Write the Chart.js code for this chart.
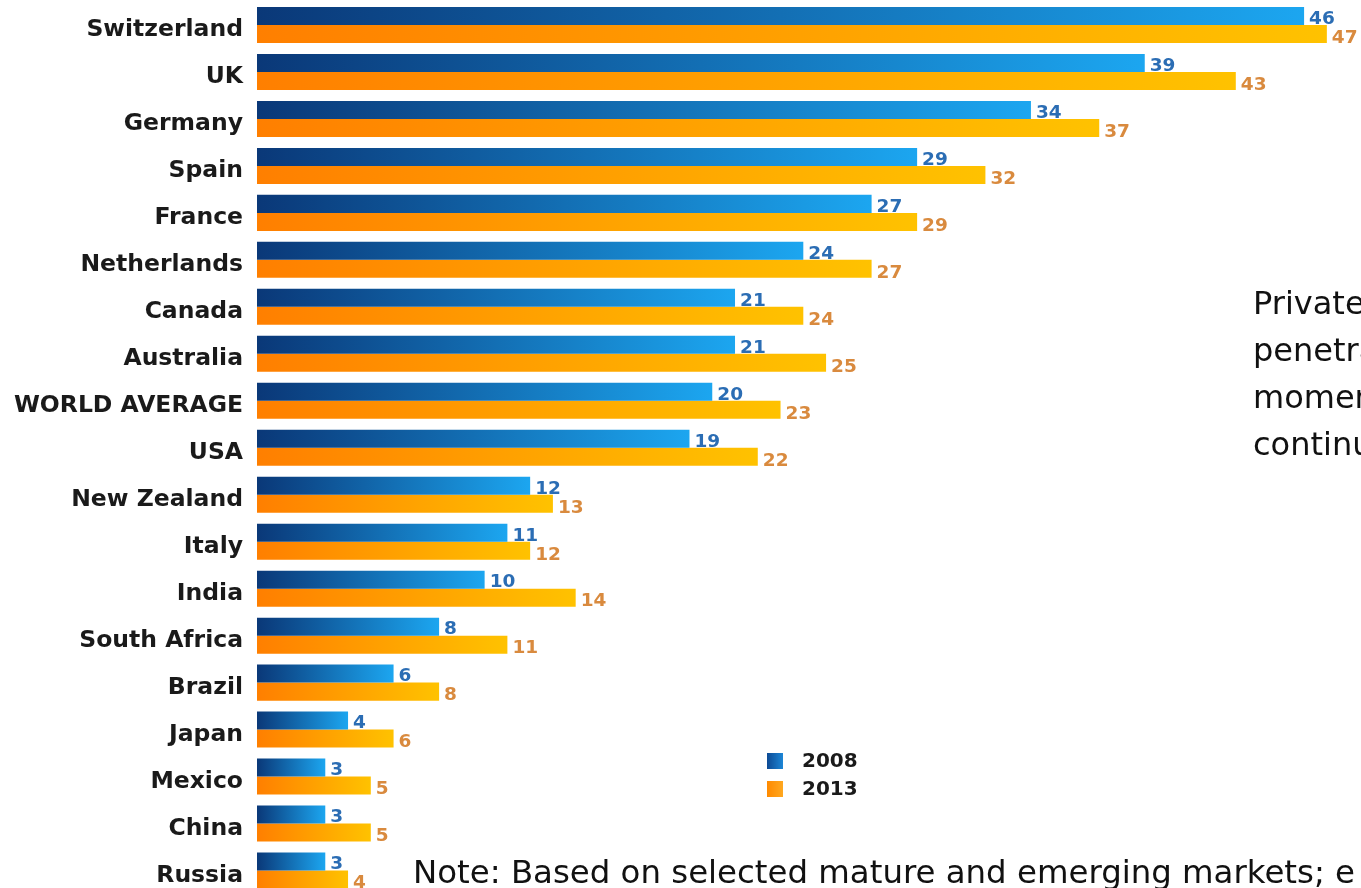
<!DOCTYPE html>
<html>
<head>
<meta charset="utf-8">
<title>Private banking penetration 2008 vs 2013</title>
<script src="https://cdn.jsdelivr.net/npm/chart.js@4/dist/chart.umd.min.js"></script>
<style>
  html, body { margin: 0; padding: 0; background: #fff; overflow: hidden; width: 1361px; height: 888px; }
  #wrap { position: absolute; left: 0; top: 0; width: 1361px; height: 894px; }
  .legend { position: absolute; left: 767px; font: bold 20px "DejaVu Sans", sans-serif; color: #1a1a1a; }
  .legend span { display: inline-block; width: 16px; height: 16px; margin-right: 19px; vertical-align: -2px; }
  .side { position: absolute; left: 1253px; top: 280px; font: 32px "DejaVu Sans", sans-serif; line-height: 47px; color: #111; white-space: nowrap; }
  .note { position: absolute; left: 413px; top: 853px; font: 32.4px "DejaVu Sans", sans-serif; color: #111; white-space: nowrap; }
</style>
</head>
<body>
<div id="wrap"><canvas id="grafico"></canvas></div>
<div class="legend" style="top:748px"><span style="background:linear-gradient(90deg,#0d4a94,#1c86d6)"></span>2008</div>
<div class="legend" style="top:776px"><span style="background:linear-gradient(90deg,#ff8a00,#ffa820)"></span>2013</div>
<div class="side">Private<br>penetra<br>momen<br>continu</div>
<div class="note">Note: Based on selected mature and emerging markets; e</div>
<script>
// Penetração de private banking por país (%)
const paises = [
  'Switzerland', 'UK', 'Germany', 'Spain', 'France', 'Netherlands', 'Canada',
  'Australia', 'WORLD AVERAGE', 'USA', 'New Zealand', 'Italy', 'India',
  'South Africa', 'Brazil', 'Japan', 'Mexico', 'China', 'Russia'
];
const anos = ['2008', '2013'];
const valores2008 = [46, 39, 34, 29, 27, 24, 21, 21, 20, 19, 12, 11, 10, 8, 6, 4, 3, 3, 3];
const valores2013 = [47, 43, 37, 32, 29, 27, 24, 25, 23, 22, 13, 12, 14, 11, 8, 6, 5, 5, 4];

// cores: início e fim do degradê de cada barra, e cor do rótulo
const degrades = [['#0a3878', '#1ca6f0'], ['#ff7f00', '#ffc200']];
const corRotulo = ['#2b6db4', '#d98a3e'];

function degradeBarra(i) {
  return (c) => {
    const x = c.chart.scales.x;
    if (!x || typeof c.raw !== 'number') return degrades[i][0];
    const x0 = x.getPixelForValue(0);
    const x1 = x.getPixelForValue(c.raw);
    if (!Number.isFinite(x0) || !Number.isFinite(x1)) return degrades[i][0];
    const g = c.chart.ctx.createLinearGradient(x0, 0, Math.max(x1, x0 + 1), 0);
    g.addColorStop(0, degrades[i][0]);
    g.addColorStop(1, degrades[i][1]);
    return g;
  };
}

// valores escritos na ponta das barras
const rotulosValores = {
  id: 'rotulosValores',
  afterDatasetsDraw(chart) {
    const ctx = chart.ctx;
    ctx.save();
    ctx.font = 'bold 18.5px "DejaVu Sans"';
    ctx.textBaseline = 'middle';
    ctx.textAlign = 'left';
    chart.data.datasets.forEach((ds, i) => {
      chart.getDatasetMeta(i).data.forEach((bar, j) => {
        ctx.fillStyle = corRotulo[i];
        ctx.fillText(ds.data[j], bar.x + 5, bar.y + (i === 0 ? 3 : 4));
      });
    });
    ctx.restore();
  }
};

const grafico = new Chart(document.getElementById('grafico'), {
  type: 'bar',
  data: {
    labels: paises,
    datasets: [
      { label: anos[0], data: valores2008, backgroundColor: degradeBarra(0) },
      { label: anos[1], data: valores2013, backgroundColor: degradeBarra(1) }
    ]
  },
  options: {
    indexAxis: 'y',
    responsive: true,
    maintainAspectRatio: false,
    animation: false,
    layout: { padding: { top: 1.5, right: 0, bottom: 0, left: 0 } },
    datasets: { bar: { categoryPercentage: 0.767, barPercentage: 1 } },
    plugins: { legend: { display: false }, tooltip: { enabled: false } },
    scales: {
      x: { display: false, min: 0, max: 48.5 },
      y: {
        grid: { display: false, drawTicks: false },
        border: { display: false },
        afterFit: (s) => {
          s.width = 257;
          s.paddingTop = 0;
          s.paddingBottom = 0;
        },
        ticks: {
          padding: 14,
          labelOffset: 5,
          color: '#1a1a1a',
          font: { family: 'DejaVu Sans', weight: 'bold', size: 23.5 }
        }
      }
    }
  },
  plugins: [rotulosValores]
});
</script>
</body>
</html>
